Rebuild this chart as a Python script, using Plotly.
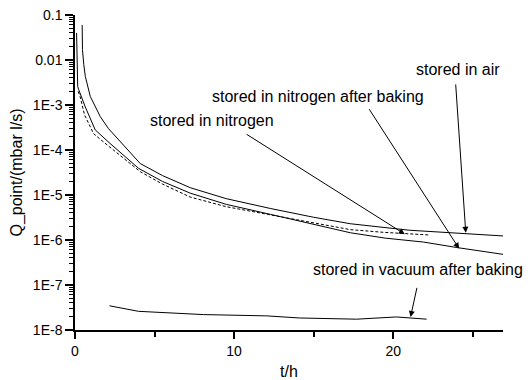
import plotly.graph_objects as go

# stored in air (solid)
t_air = [0.45, 0.47, 0.55, 0.65, 0.96, 1.59, 2.1, 3.0, 4.1, 5.5, 7.25, 9.5, 12.3, 15.0, 17.3, 21.0, 24.6, 26.9]
q_air = [0.06, 0.017, 0.008, 4.3e-3, 1.55e-3, 5.5e-4, 3.0e-4, 1.35e-4, 5.0e-5, 2.7e-5, 1.45e-5, 8.3e-6, 5.0e-6, 3.2e-6, 2.3e-6, 1.65e-6, 1.38e-6, 1.23e-6]

# stored in nitrogen after baking (solid)
t_n2b = [0.1, 0.11, 0.13, 0.17, 0.23, 0.65, 1.27, 2.2, 4.0, 5.5, 7.24, 9.5, 12.3, 15.0, 17.3, 19.5, 21.9, 24.0, 26.9]
q_n2b = [0.04, 0.02, 0.01, 2.6e-3, 2.2e-3, 9.0e-4, 2.8e-4, 1.4e-4, 3.9e-5, 2.0e-5, 1.1e-5, 6.2e-6, 3.7e-6, 2.2e-6, 1.45e-6, 1.1e-6, 9.0e-7, 6.8e-7, 4.8e-7]

# stored in nitrogen (dashed)
t_n2 = [0.2, 0.33, 0.6, 1.17, 1.8, 2.42, 4.1, 5.5, 7.24, 9.5, 12.3, 15.0, 17.3, 19.4, 22.3]
q_n2 = [2.0e-3, 1.5e-3, 6.0e-4, 2.3e-4, 1.5e-4, 1.0e-4, 3.3e-5, 1.75e-5, 9.0e-6, 5.5e-6, 3.6e-6, 2.4e-6, 1.7e-6, 1.48e-6, 1.29e-6]

# stored in vacuum after baking (solid)
t_vac = [2.17, 4.0, 8.07, 12.05, 14.1, 17.7, 20.2, 22.1]
q_vac = [3.45e-8, 2.6e-8, 2.2e-8, 2.06e-8, 1.85e-8, 1.74e-8, 1.95e-8, 1.74e-8]

y_tickvals = [0.1, 0.01, 1e-3, 1e-4, 1e-5, 1e-6, 1e-7, 1e-8]
y_ticktext = ["0.1", "0.01", "1E-3", "1E-4", "1E-5", "1E-6", "1E-7", "1E-8"]
y_minor = [m * 10.0 ** e for e in range(-8, -1) for m in range(2, 10)]
x_tickvals = [0, 10, 20]
x_ticktext = ["0", "10", "20"]
x_minor = [5, 15, 25]

FONT = "Liberation Sans, Arial, sans-serif"
X_RANGE = [0, 26.9]
Y_RANGE = [-8, -1]

fig = go.Figure()
line = dict(color="black", width=1)
fig.add_trace(go.Scatter(x=t_air, y=q_air, mode="lines", line=line, name="stored in air"))
fig.add_trace(go.Scatter(x=t_n2b, y=q_n2b, mode="lines", line=line, name="stored in nitrogen after baking"))
fig.add_trace(go.Scatter(x=t_n2, y=q_n2, mode="lines", line=dict(color="black", width=1, dash="3px,2px"), name="stored in nitrogen"))
fig.add_trace(go.Scatter(x=t_vac, y=q_vac, mode="lines", line=line, name="stored in vacuum after baking"))

labels = [
    ("stored in air", 24.07, -2.22),
    ("stored in nitrogen after baking", 15.27, -2.80),
    ("stored in nitrogen", 8.62, -3.35),
    ("stored in vacuum after baking", 21.55, -6.66),
]
for txt, x, y in labels:
    fig.add_annotation(x=x, y=y, text=txt, showarrow=False, font=dict(family=FONT, size=16, color="black"))

arrows = [
    (24.56, -5.84, 23.92, -2.51),
    (24.14, -6.19, 18.43, -3.06),
    (20.73, -5.87, 10.69, -3.63),
    (21.09, -7.71, 21.51, -7.03),
]
for x, y, ax, ay in arrows:
    fig.add_annotation(x=x, y=y, ax=ax, ay=ay, axref="x", ayref="y", text="", showarrow=True,
                       arrowhead=2, arrowsize=1.2, arrowwidth=1, arrowcolor="black")

fig.update_layout(
    width=532, height=380,
    margin=dict(l=75, r=29, t=15, b=50),
    plot_bgcolor="white", paper_bgcolor="white",
    showlegend=False,
    font=dict(family=FONT, size=14, color="black"),
)
fig.update_xaxes(
    range=X_RANGE, showgrid=False, zeroline=False, automargin=False,
    showline=True, linecolor="black", linewidth=1.5,
    ticks="outside", ticklen=7, tickwidth=1.5, tickcolor="black",
    tickmode="array", tickvals=x_tickvals, ticktext=x_ticktext,
    minor=dict(ticks="outside", ticklen=5, tickwidth=1.5, tickcolor="black", tickvals=x_minor, showgrid=False),
    tickfont=dict(size=14),
    title=dict(text="t/h", font=dict(size=16), standoff=12),
)
fig.update_yaxes(
    type="log", range=Y_RANGE, showgrid=False, zeroline=False, automargin=False,
    showline=True, linecolor="black", linewidth=1.5,
    ticks="outside", ticklen=8, tickwidth=1.5, tickcolor="black",
    tickmode="array", tickvals=y_tickvals, ticktext=y_ticktext,
    minor=dict(ticks="outside", ticklen=4, tickwidth=1.2, tickcolor="black", tickvals=y_minor, showgrid=False),
    tickfont=dict(size=14),
    title=dict(text="Q_point/(mbar l/s)", font=dict(size=16), standoff=6),
)
fig.write_html("out.html")
